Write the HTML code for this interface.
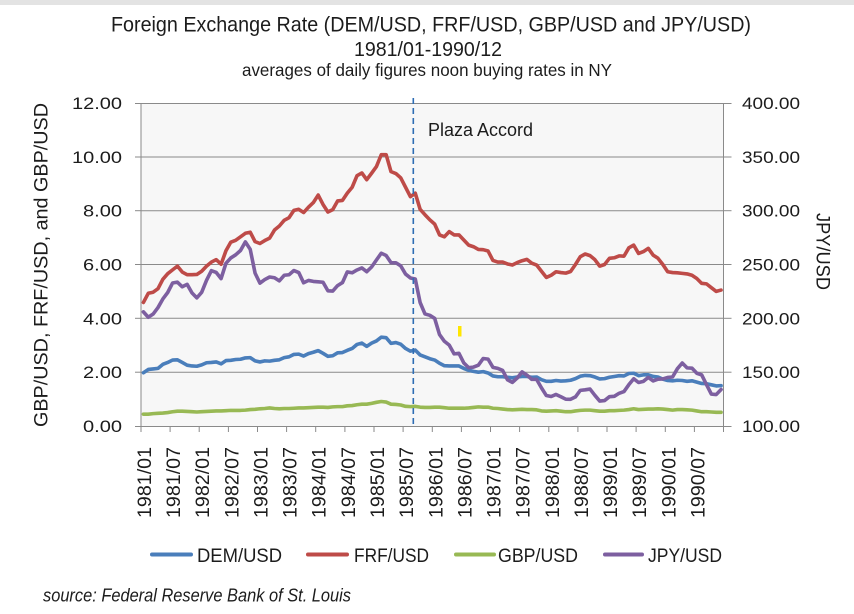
<!DOCTYPE html>
<html>
<head>
<meta charset="utf-8">
<style>
html,body{margin:0;padding:0;background:#fff;}
svg{display:block;}
text{font-family:"Liberation Sans",sans-serif;fill:#1c1c1c;}
</style>
</head>
<body>
<svg width="854" height="614" viewBox="0 0 854 614" xmlns="http://www.w3.org/2000/svg">
<rect x="0" y="0" width="854" height="614" fill="#ffffff"/>
<rect x="0" y="0" width="854" height="5" fill="#e3e3e3"/>

<!-- titles -->
<text x="431" y="31.5" font-size="21.5" text-anchor="middle" textLength="640" lengthAdjust="spacingAndGlyphs">Foreign Exchange Rate (DEM/USD, FRF/USD,  GBP/USD and JPY/USD)</text>
<text x="428" y="56" font-size="20" text-anchor="middle" textLength="148" lengthAdjust="spacingAndGlyphs">1981/01-1990/12</text>
<text x="427" y="76" font-size="17.5" text-anchor="middle" textLength="370" lengthAdjust="spacingAndGlyphs">averages of daily figures noon buying rates in NY</text>

<!-- plot area -->
<rect x="141" y="103" width="582.5" height="323" fill="#f7f7f7"/>
<g stroke="#8a8a8a" stroke-width="1" fill="none">
  <line x1="141" y1="103.5" x2="723.5" y2="103.5"/>
  <line x1="141" y1="157" x2="723.5" y2="157"/>
  <line x1="141" y1="210.7" x2="723.5" y2="210.7"/>
  <line x1="141" y1="264.5" x2="723.5" y2="264.5"/>
  <line x1="141" y1="318.3" x2="723.5" y2="318.3"/>
  <line x1="141" y1="372.2" x2="723.5" y2="372.2"/>
  <line x1="135" y1="426.5" x2="731.5" y2="426.5"/>
  <line x1="141" y1="103" x2="141" y2="432"/>
  <line x1="723.5" y1="103" x2="723.5" y2="432"/>
  <line x1="135" y1="103.5" x2="141" y2="103.5"/>
  <line x1="135" y1="157" x2="141" y2="157"/>
  <line x1="135" y1="210.7" x2="141" y2="210.7"/>
  <line x1="135" y1="264.5" x2="141" y2="264.5"/>
  <line x1="135" y1="318.3" x2="141" y2="318.3"/>
  <line x1="135" y1="372.2" x2="141" y2="372.2"/>
  <line x1="723.5" y1="103.5" x2="731.5" y2="103.5"/>
  <line x1="723.5" y1="157" x2="731.5" y2="157"/>
  <line x1="723.5" y1="210.7" x2="731.5" y2="210.7"/>
  <line x1="723.5" y1="264.5" x2="731.5" y2="264.5"/>
  <line x1="723.5" y1="318.3" x2="731.5" y2="318.3"/>
  <line x1="723.5" y1="372.2" x2="731.5" y2="372.2"/>
  <line x1="170.1" y1="426" x2="170.1" y2="432"/>
  <line x1="199.2" y1="426" x2="199.2" y2="432"/>
  <line x1="228.4" y1="426" x2="228.4" y2="432"/>
  <line x1="257.5" y1="426" x2="257.5" y2="432"/>
  <line x1="286.6" y1="426" x2="286.6" y2="432"/>
  <line x1="315.7" y1="426" x2="315.7" y2="432"/>
  <line x1="344.9" y1="426" x2="344.9" y2="432"/>
  <line x1="374.0" y1="426" x2="374.0" y2="432"/>
  <line x1="403.1" y1="426" x2="403.1" y2="432"/>
  <line x1="432.3" y1="426" x2="432.3" y2="432"/>
  <line x1="461.4" y1="426" x2="461.4" y2="432"/>
  <line x1="490.5" y1="426" x2="490.5" y2="432"/>
  <line x1="519.6" y1="426" x2="519.6" y2="432"/>
  <line x1="548.8" y1="426" x2="548.8" y2="432"/>
  <line x1="577.9" y1="426" x2="577.9" y2="432"/>
  <line x1="607.0" y1="426" x2="607.0" y2="432"/>
  <line x1="636.1" y1="426" x2="636.1" y2="432"/>
  <line x1="665.3" y1="426" x2="665.3" y2="432"/>
  <line x1="694.4" y1="426" x2="694.4" y2="432"/>
</g>

<!-- left tick labels -->
<g font-size="16.5" text-anchor="end">
  <text x="122" y="109" textLength="50" lengthAdjust="spacingAndGlyphs">12.00</text>
  <text x="122" y="163" textLength="50" lengthAdjust="spacingAndGlyphs">10.00</text>
  <text x="122" y="216.7" textLength="39" lengthAdjust="spacingAndGlyphs">8.00</text>
  <text x="122" y="270.5" textLength="39" lengthAdjust="spacingAndGlyphs">6.00</text>
  <text x="122" y="324.3" textLength="39" lengthAdjust="spacingAndGlyphs">4.00</text>
  <text x="122" y="378.2" textLength="39" lengthAdjust="spacingAndGlyphs">2.00</text>
  <text x="122" y="432" textLength="39" lengthAdjust="spacingAndGlyphs">0.00</text>
</g>
<!-- right tick labels -->
<g font-size="16.5">
  <text x="742" y="109" textLength="58" lengthAdjust="spacingAndGlyphs">400.00</text>
  <text x="742" y="163" textLength="58" lengthAdjust="spacingAndGlyphs">350.00</text>
  <text x="742" y="216.7" textLength="58" lengthAdjust="spacingAndGlyphs">300.00</text>
  <text x="742" y="270.5" textLength="58" lengthAdjust="spacingAndGlyphs">250.00</text>
  <text x="742" y="324.3" textLength="58" lengthAdjust="spacingAndGlyphs">200.00</text>
  <text x="742" y="378.2" textLength="58" lengthAdjust="spacingAndGlyphs">150.00</text>
  <text x="742" y="432" textLength="58" lengthAdjust="spacingAndGlyphs">100.00</text>
</g>

<!-- axis titles -->
<text transform="translate(42 265) rotate(-90)" font-size="19" text-anchor="middle" dominant-baseline="central" textLength="324" lengthAdjust="spacingAndGlyphs">GBP/USD, FRF/USD,  and GBP/USD</text>
<text transform="translate(822 251.5) rotate(90)" font-size="19" text-anchor="middle" dominant-baseline="central" textLength="77" lengthAdjust="spacingAndGlyphs">JPY/USD</text>

<!-- x labels -->
<g font-size="19" text-anchor="end" dominant-baseline="central">
  <text transform="translate(145.5 447) rotate(-90)" textLength="71" lengthAdjust="spacingAndGlyphs">1981/01</text>
  <text transform="translate(174.6 447) rotate(-90)" textLength="71" lengthAdjust="spacingAndGlyphs">1981/07</text>
  <text transform="translate(203.7 447) rotate(-90)" textLength="71" lengthAdjust="spacingAndGlyphs">1982/01</text>
  <text transform="translate(232.9 447) rotate(-90)" textLength="71" lengthAdjust="spacingAndGlyphs">1982/07</text>
  <text transform="translate(262.0 447) rotate(-90)" textLength="71" lengthAdjust="spacingAndGlyphs">1983/01</text>
  <text transform="translate(291.1 447) rotate(-90)" textLength="71" lengthAdjust="spacingAndGlyphs">1983/07</text>
  <text transform="translate(320.2 447) rotate(-90)" textLength="71" lengthAdjust="spacingAndGlyphs">1984/01</text>
  <text transform="translate(349.4 447) rotate(-90)" textLength="71" lengthAdjust="spacingAndGlyphs">1984/07</text>
  <text transform="translate(378.5 447) rotate(-90)" textLength="71" lengthAdjust="spacingAndGlyphs">1985/01</text>
  <text transform="translate(407.6 447) rotate(-90)" textLength="71" lengthAdjust="spacingAndGlyphs">1985/07</text>
  <text transform="translate(436.8 447) rotate(-90)" textLength="71" lengthAdjust="spacingAndGlyphs">1986/01</text>
  <text transform="translate(465.9 447) rotate(-90)" textLength="71" lengthAdjust="spacingAndGlyphs">1986/07</text>
  <text transform="translate(495.0 447) rotate(-90)" textLength="71" lengthAdjust="spacingAndGlyphs">1987/01</text>
  <text transform="translate(524.1 447) rotate(-90)" textLength="71" lengthAdjust="spacingAndGlyphs">1987/07</text>
  <text transform="translate(553.3 447) rotate(-90)" textLength="71" lengthAdjust="spacingAndGlyphs">1988/01</text>
  <text transform="translate(582.4 447) rotate(-90)" textLength="71" lengthAdjust="spacingAndGlyphs">1988/07</text>
  <text transform="translate(611.5 447) rotate(-90)" textLength="71" lengthAdjust="spacingAndGlyphs">1989/01</text>
  <text transform="translate(640.6 447) rotate(-90)" textLength="71" lengthAdjust="spacingAndGlyphs">1989/07</text>
  <text transform="translate(669.8 447) rotate(-90)" textLength="71" lengthAdjust="spacingAndGlyphs">1990/01</text>
  <text transform="translate(698.9 447) rotate(-90)" textLength="71" lengthAdjust="spacingAndGlyphs">1990/07</text>
</g>

<!-- series (left axis) -->
<g transform="translate(141 426) scale(4.8542 -26.917)" fill="none" stroke-linejoin="round" stroke-linecap="round">
<polyline vector-effect="non-scaling-stroke" stroke="#98b954" stroke-width="3.6" points="0.5,0.44 1.5,0.44 2.5,0.46 3.5,0.47 4.5,0.48 5.5,0.50 6.5,0.53 7.5,0.55 8.5,0.55 9.5,0.54 10.5,0.53 11.5,0.52 12.5,0.53 13.5,0.54 14.5,0.55 15.5,0.56 16.5,0.56 17.5,0.57 18.5,0.58 19.5,0.58 20.5,0.58 21.5,0.59 22.5,0.61 23.5,0.62 24.5,0.64 25.5,0.65 26.5,0.67 27.5,0.65 28.5,0.64 29.5,0.65 30.5,0.65 31.5,0.66 32.5,0.67 33.5,0.67 34.5,0.68 35.5,0.69 36.5,0.70 37.5,0.70 38.5,0.69 39.5,0.71 40.5,0.72 41.5,0.72 42.5,0.75 43.5,0.76 44.5,0.79 45.5,0.81 46.5,0.81 47.5,0.84 48.5,0.88 49.5,0.91 50.5,0.89 51.5,0.81 52.5,0.80 53.5,0.78 54.5,0.73 55.5,0.72 56.5,0.73 57.5,0.70 58.5,0.69 59.5,0.69 60.5,0.70 61.5,0.70 62.5,0.68 63.5,0.66 64.5,0.66 65.5,0.66 66.5,0.66 67.5,0.67 68.5,0.69 69.5,0.71 70.5,0.70 71.5,0.70 72.5,0.66 73.5,0.65 74.5,0.63 75.5,0.61 76.5,0.60 77.5,0.61 78.5,0.62 79.5,0.61 80.5,0.61 81.5,0.60 82.5,0.56 83.5,0.55 84.5,0.56 85.5,0.57 86.5,0.55 87.5,0.53 88.5,0.53 89.5,0.56 90.5,0.58 91.5,0.59 92.5,0.59 93.5,0.57 94.5,0.55 95.5,0.55 96.5,0.57 97.5,0.57 98.5,0.58 99.5,0.59 100.5,0.61 101.5,0.64 102.5,0.61 103.5,0.62 104.5,0.63 105.5,0.63 106.5,0.64 107.5,0.63 108.5,0.61 109.5,0.59 110.5,0.61 111.5,0.61 112.5,0.60 113.5,0.59 114.5,0.56 115.5,0.53 116.5,0.53 117.5,0.52 118.5,0.51 119.5,0.51"/>
<polyline vector-effect="non-scaling-stroke" stroke="#be4b48" stroke-width="3.6" points="0.5,4.59 1.5,4.93 2.5,4.97 3.5,5.10 4.5,5.45 5.5,5.66 6.5,5.80 7.5,5.94 8.5,5.72 9.5,5.62 10.5,5.62 11.5,5.63 12.5,5.75 13.5,5.94 14.5,6.09 15.5,6.18 16.5,6.01 17.5,6.51 18.5,6.83 19.5,6.90 20.5,7.03 21.5,7.16 22.5,7.20 23.5,6.85 24.5,6.78 25.5,6.89 26.5,6.98 27.5,7.28 28.5,7.43 29.5,7.64 30.5,7.74 31.5,8.01 32.5,8.05 33.5,7.93 34.5,8.13 35.5,8.30 36.5,8.58 37.5,8.23 38.5,7.95 39.5,8.04 40.5,8.36 41.5,8.38 42.5,8.65 43.5,8.87 44.5,9.30 45.5,9.40 46.5,9.15 47.5,9.39 48.5,9.64 49.5,10.08 50.5,10.08 51.5,9.45 52.5,9.38 53.5,9.22 54.5,8.87 55.5,8.52 56.5,8.65 57.5,8.05 58.5,7.85 59.5,7.66 60.5,7.50 61.5,7.10 62.5,7.03 63.5,7.22 64.5,7.10 65.5,7.10 66.5,6.91 67.5,6.72 68.5,6.66 69.5,6.56 70.5,6.55 71.5,6.50 72.5,6.15 73.5,6.09 74.5,6.09 75.5,6.02 76.5,5.98 77.5,6.07 78.5,6.14 79.5,6.19 80.5,6.05 81.5,5.98 82.5,5.75 83.5,5.52 84.5,5.60 85.5,5.73 86.5,5.70 87.5,5.68 88.5,5.74 89.5,6.00 90.5,6.29 91.5,6.39 92.5,6.33 93.5,6.18 94.5,5.94 95.5,6.00 96.5,6.23 97.5,6.25 98.5,6.32 99.5,6.31 100.5,6.62 101.5,6.72 102.5,6.41 103.5,6.48 104.5,6.60 105.5,6.35 106.5,6.23 107.5,6.00 108.5,5.73 109.5,5.70 110.5,5.69 111.5,5.67 112.5,5.65 113.5,5.60 114.5,5.48 115.5,5.30 116.5,5.28 117.5,5.14 118.5,5.00 119.5,5.05"/>
<polyline vector-effect="non-scaling-stroke" stroke="#4a7ebb" stroke-width="3.6" points="0.5,1.98 1.5,2.10 2.5,2.12 3.5,2.14 4.5,2.29 5.5,2.36 6.5,2.45 7.5,2.46 8.5,2.36 9.5,2.26 10.5,2.23 11.5,2.22 12.5,2.27 13.5,2.35 14.5,2.36 15.5,2.38 16.5,2.31 17.5,2.43 18.5,2.44 19.5,2.47 20.5,2.48 21.5,2.53 22.5,2.54 23.5,2.42 24.5,2.38 25.5,2.42 26.5,2.41 27.5,2.44 28.5,2.46 29.5,2.54 30.5,2.57 31.5,2.66 32.5,2.67 33.5,2.60 34.5,2.69 35.5,2.74 36.5,2.80 37.5,2.70 38.5,2.59 39.5,2.61 40.5,2.72 41.5,2.73 42.5,2.81 43.5,2.88 44.5,3.03 45.5,3.08 46.5,2.96 47.5,3.08 48.5,3.16 49.5,3.30 50.5,3.28 51.5,3.07 52.5,3.10 53.5,3.04 54.5,2.88 55.5,2.78 56.5,2.82 57.5,2.64 58.5,2.57 59.5,2.50 60.5,2.45 61.5,2.33 62.5,2.24 63.5,2.23 64.5,2.23 65.5,2.23 66.5,2.14 67.5,2.07 68.5,2.03 69.5,2.00 70.5,2.02 71.5,1.97 72.5,1.86 73.5,1.83 74.5,1.83 75.5,1.81 76.5,1.79 77.5,1.82 78.5,1.84 79.5,1.84 80.5,1.81 81.5,1.82 82.5,1.72 83.5,1.66 84.5,1.66 85.5,1.69 86.5,1.67 87.5,1.68 88.5,1.70 89.5,1.76 90.5,1.85 91.5,1.88 92.5,1.87 93.5,1.82 94.5,1.75 95.5,1.76 96.5,1.81 97.5,1.84 98.5,1.87 99.5,1.86 100.5,1.95 101.5,1.96 102.5,1.87 103.5,1.90 104.5,1.90 105.5,1.84 106.5,1.82 107.5,1.74 108.5,1.69 109.5,1.68 110.5,1.70 111.5,1.69 112.5,1.66 113.5,1.68 114.5,1.63 115.5,1.58 116.5,1.57 117.5,1.53 118.5,1.49 119.5,1.50"/>
</g>
<!-- JPY (right axis) -->
<g transform="translate(141 426) scale(4.8542 -1.07667) translate(0 -100)" fill="none" stroke-linejoin="round" stroke-linecap="round">
<polyline vector-effect="non-scaling-stroke" stroke="#7d5fa0" stroke-width="3.6" points="0.5,206 1.5,201 2.5,204 3.5,210 4.5,218 5.5,224 6.5,232.8 7.5,233.6 8.5,229.3 9.5,231.6 10.5,223.6 11.5,219.0 12.5,224.2 13.5,235.3 14.5,244.3 15.5,242.6 16.5,236.9 17.5,251.1 18.5,256.1 19.5,259.0 20.5,263.0 21.5,271.0 22.5,264.1 23.5,242.0 24.5,232.7 25.5,236.0 26.5,238.4 27.5,237.7 28.5,234.8 29.5,240.0 30.5,240.5 31.5,244.4 32.5,242.5 33.5,233.0 34.5,235.2 35.5,234.3 36.5,233.9 37.5,233.5 38.5,225.6 39.5,225.3 40.5,230.4 41.5,233.2 42.5,243.1 43.5,242.3 44.5,244.9 45.5,246.8 46.5,243.3 47.5,247.7 48.5,254.2 49.5,260.5 50.5,258.4 51.5,251.7 52.5,251.6 53.5,248.8 54.5,241.1 55.5,237.5 56.5,236.5 57.5,214.7 58.5,204.1 59.5,202.8 60.5,199.9 61.5,184.9 62.5,178.7 63.5,175.1 64.5,167.0 65.5,167.5 66.5,158.6 67.5,154.2 68.5,154.7 69.5,156.5 70.5,162.7 71.5,162.1 72.5,154.5 73.5,153.5 74.5,151.6 75.5,142.9 76.5,140.5 77.5,144.5 78.5,150.3 79.5,147.3 80.5,143.3 81.5,143.3 82.5,135.4 83.5,128.3 84.5,127.4 85.5,129.3 86.5,127.2 87.5,124.9 88.5,124.8 89.5,127.0 90.5,133.1 91.5,133.6 92.5,134.3 93.5,128.5 94.5,123.2 95.5,123.6 96.5,127.2 97.5,127.6 98.5,130.4 99.5,132.0 100.5,138.4 101.5,143.9 102.5,140.4 103.5,141.5 104.5,145.1 105.5,141.9 106.5,143.5 107.5,143.7 108.5,145.1 109.5,145.5 110.5,153.2 111.5,158.5 112.5,154.0 113.5,153.7 114.5,149.0 115.5,147.5 116.5,138.4 117.5,129.6 118.5,129.2 119.5,133.9"/>
</g>

<!-- Plaza Accord -->
<line x1="413.3" y1="98" x2="413.3" y2="427" stroke="#2e6db4" stroke-width="1.6" stroke-dasharray="6,4"/>
<text x="428" y="136" font-size="18.5" textLength="105" lengthAdjust="spacingAndGlyphs">Plaza Accord</text>
<rect x="458" y="326" width="3.5" height="10.5" fill="#ffe600"/>

<!-- legend -->
<g stroke-width="4" stroke-linecap="round">
  <line x1="152" y1="554.5" x2="191" y2="554.5" stroke="#4a7ebb"/>
  <line x1="308" y1="554.5" x2="347" y2="554.5" stroke="#be4b48"/>
  <line x1="456" y1="554.5" x2="494" y2="554.5" stroke="#98b954"/>
  <line x1="605" y1="554.5" x2="642" y2="554.5" stroke="#7d5fa0"/>
</g>
<g font-size="19.5">
  <text x="197" y="562" textLength="85" lengthAdjust="spacingAndGlyphs">DEM/USD</text>
  <text x="354" y="562" textLength="75" lengthAdjust="spacingAndGlyphs">FRF/USD</text>
  <text x="498" y="562" textLength="80" lengthAdjust="spacingAndGlyphs">GBP/USD</text>
  <text x="648" y="562" textLength="74" lengthAdjust="spacingAndGlyphs">JPY/USD</text>
</g>

<!-- source -->
<text x="43" y="601.5" font-size="18" font-style="italic" textLength="308" lengthAdjust="spacingAndGlyphs">source: Federal Reserve Bank of St. Louis</text>
</svg>
</body>
</html>
